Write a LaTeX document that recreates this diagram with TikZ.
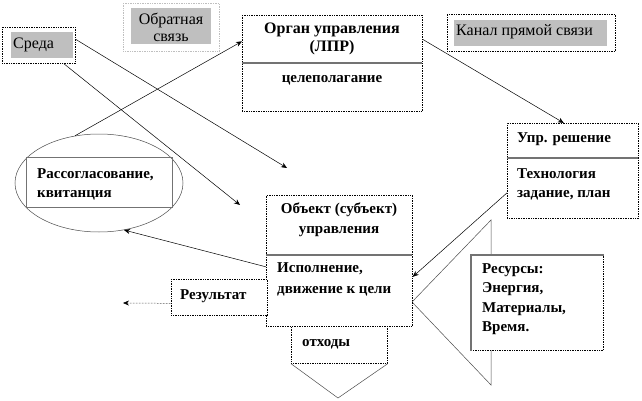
\documentclass[tikz,border=0pt]{standalone}
\usepackage{fontspec}
\setmainfont{Liberation Serif}
\usetikzlibrary{arrows.meta,shapes.geometric,calc}
\begin{document}
\begin{tikzpicture}[x=1pt,y=-1pt,
  frame/.style={draw=black, densely dotted, line width=0.7pt, fill=white, inner sep=0pt, anchor=north west},
  grayfill/.style={fill=black!25, inner sep=0pt, anchor=north west},
  divider/.style={draw=black!55, line width=1.3pt},
  txt/.style={inner sep=0pt, anchor=west, font=\fontsize{16}{18}\selectfont},
  btxt/.style={inner sep=0pt, anchor=west, font=\fontsize{15}{19}\selectfont\bfseries, align=left},
  conn/.style={draw=black, line width=0.5pt, -{Stealth[length=6pt,width=5pt]}}
]
\useasboundingbox (0,0) rectangle (642,401);

% Среда
\node[frame, minimum width=73pt, minimum height=36pt] (sreda) at (2,27) {};
\node[grayfill, minimum width=62pt, minimum height=26pt] (sredafill) at (11,32) {};
\node[txt] (sredat) at (13,45) {Среда};

% Обратная связь
\node[frame, draw=black!25, minimum width=96pt, minimum height=48pt] (obr) at (123,3) {};
\node[grayfill, minimum width=80pt, minimum height=36pt] (obrfill) at (131,8) {};
\node[inner sep=0pt, align=center, font=\fontsize{16}{17}\selectfont] (obrt) at (171,27) {Обратная\\связь};

% Орган управления
\node[frame, minimum width=180pt, minimum height=96pt] (organ) at (242,15) {};
\draw[divider] (242,63) -- (422,63);
\node[inner sep=0pt, align=center, font=\fontsize{16}{18}\selectfont\bfseries] (organt) at (332,39) {Орган управления\\(ЛПР)};
\node[inner sep=0pt, font=\fontsize{15}{18}\selectfont\bfseries] (celt) at (332,80) {целеполагание};

% Канал прямой связи
\node[frame, minimum width=168pt, minimum height=37pt] (kanal) at (447,14) {};
\node[grayfill, minimum width=153pt, minimum height=26pt] (kanalfill) at (454,20) {};
\node[txt] (kanalt) at (456,32) {Канал прямой связи};

% Упр. решение
\node[frame, minimum width=131pt, minimum height=95pt] (upr) at (507,123) {};
\draw[divider] (507,158) -- (638,158);
\node[btxt] (uprt) at (517,139) {Упр. решение};
\node[btxt] (techt) at (517,184) {Технология\\задание, план};

% Рассогласование (ellipse)
\node[draw=black!70, line width=0.5pt, ellipse, minimum width=168pt, minimum height=98pt, inner sep=0pt] (ell) at (99,183) {};
\node[draw=black!55, line width=1.2pt, inner sep=0pt, anchor=north west, minimum width=146pt, minimum height=50pt] (rass) at (26,157) {};
\node[btxt] (rasst) at (37,184) {Рассогласование,\\квитанция};

% Ресурсы triangle
\draw[black!70, line width=0.5pt] (491,220) coordinate (resA) -- (412,302) coordinate (resB) -- (491,385) coordinate (resC) -- cycle;

% Объект
\node[frame, minimum width=146pt, minimum height=131pt] (obj) at (266,195) {};
\draw[divider] (266,255) -- (412,255);
\node[inner sep=0pt, align=center, font=\fontsize{15}{20}\selectfont\bfseries] (objt) at (339,220) {Объект (субъект)\\управления};
\node[btxt, font=\fontsize{15}{21}\selectfont\bfseries] (ispt) at (277,279) {Исполнение,\\движение к цели};

% отходы
\node[frame, minimum width=96pt, minimum height=37pt] (otx) at (291,326) {};
\node[btxt] (otxt) at (302,344) {отходы};
\draw[black!70, line width=0.5pt] (otx.south west) -- (338,398) coordinate (otxtip) -- (otx.south east);

% Результат
\node[frame, minimum width=96pt, minimum height=36pt] (res) at (171,279) {};
\node[btxt] (rest) at (180,296) {Результат};

% Ресурсы
\node[frame, minimum width=132pt, minimum height=95pt] (resu) at (471,255) {};
\draw[black!55, line width=1.2pt] (resu.south west) -- (resu.north west) -- (resu.north east);
\node[btxt, font=\fontsize{15}{19.5}\selectfont\bfseries] (resut) at (482,299) {Ресурсы:\\Энергия,\\Материалы,\\Время.};

% free ends
\coordinate (c1) at (287,168);
\coordinate (c2) at (240,205);
\coordinate (c3) at (123,303);

% connectors
\draw[conn] ([yshift=6pt]sreda.east) -- (c1);
\draw[conn] ([xshift=25pt]sreda.south) -- (c2);
\draw[conn] (ell.117) -- ([yshift=22pt]organ.west);
\draw[conn] ([yshift=24pt]organ.east) -- ([xshift=-9pt]upr.north);
\draw[conn] ([yshift=-22pt]upr.west) -- ([yshift=-16pt]obj.east);
\draw[conn] ([yshift=-6pt]obj.west) -- (ell.-62);
\draw[conn, densely dotted] ([yshift=-6pt]res.west) -- (c3);
\end{tikzpicture}
\end{document}
